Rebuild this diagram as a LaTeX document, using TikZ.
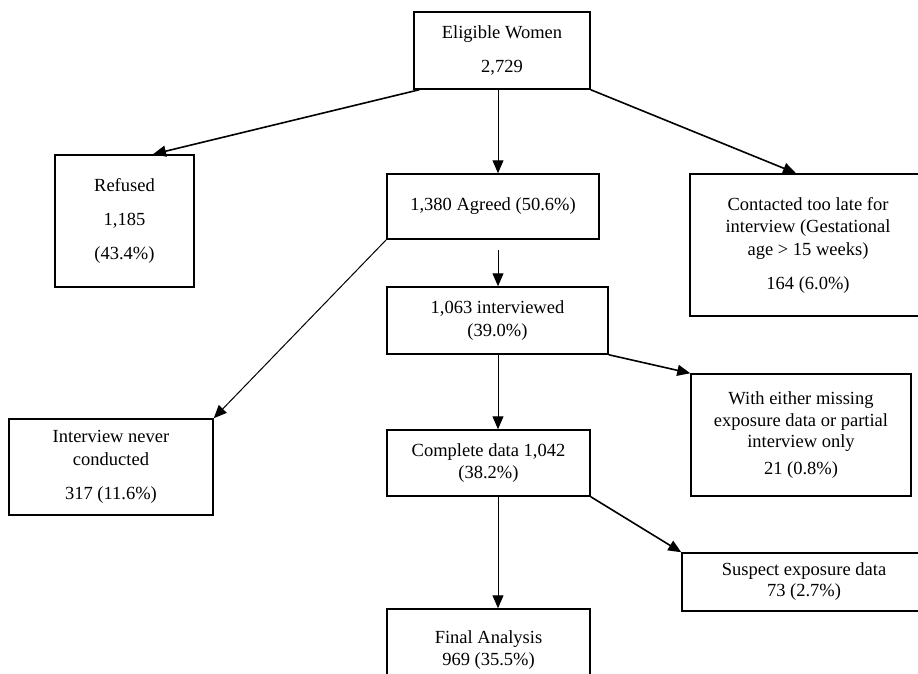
\documentclass[tikz,border=0pt]{standalone}
\usepackage{fontspec}
\setmainfont{Liberation Serif}
\usetikzlibrary{arrows.meta}
\def\boxfont{\fontsize{18.5}{22.5}\selectfont}

\begin{document}
\begin{tikzpicture}[x=1pt, y=-1pt,
		box/.style={draw, line width=1.5pt, align=center, inner sep=0pt, font=\boxfont},
		arr/.style={line width=1pt, -{Triangle[length=13pt,width=11pt]}},
		arrb/.style={line width=1.6pt, -{Triangle[length=13pt,width=11pt]}}]
		%%%%% START %%%%%
		
		\path[use as bounding box, fill=white] (0, 0) rectangle (918, 674);
		
		\node[box, minimum width=176pt, minimum height=77pt] (elig) at (502, 50.5) {Eligible Women\\[11.5pt]2,729};
		
		\node[box, minimum width=139pt, minimum height=132pt] (refused) at (124.5, 221) {Refused\\[11.5pt]1,185\\[11.5pt](43.4\%)};
		\node[box, minimum width=212pt, minimum height=65pt] (agreed) at (493, 206.5) {1,380 Agreed (50.6\%)};
		\node[box, minimum width=236pt, minimum height=142pt] (late) at (808, 245) {Contacted too late for\\interview (Gestational\\age > 15 weeks)\\[11.5pt]164 (6.0\%)};
		
		\node[box, minimum width=221pt, minimum height=67pt] (interviewed) at (497.5, 320.5) {1,063 interviewed\\(39.0\%)};
		\node[box, minimum width=204pt, minimum height=96pt] (never) at (111, 467) {Interview never\\conducted\\[11.5pt]317 (11.6\%)};
		\node[box, minimum width=220pt, minimum height=122pt] (missing) at (801, 435) {With either missing\\[-1pt]exposure data or partial\\[-1pt]interview only\\[4pt]21 (0.8\%)};
		
		\node[box, minimum width=203pt, minimum height=66pt] (complete) at (488.5, 463) {Complete data 1,042\\(38.2\%)};
		\node[box, minimum width=244pt, minimum height=58pt] (suspect) at (804, 582) {Suspect exposure data\\[-1.5pt]73 (2.7\%)};
		\node[box, minimum width=203pt, minimum height=82pt] (final) at (488.5, 650) {Final Analysis\\969 (35.5\%)};
		
		\draw[arrb] ([xshift=6pt]elig.south west) -- ([xshift=28.5pt]refused.north);
		\draw[arr] ([xshift=-4pt]elig.south) -- ([xshift=5pt]agreed.north);
		\draw[arrb] (elig.south east) -- ([xshift=-12pt]late.north);
		
		\draw[arr] ([xshift=5pt, yshift=-10pt]agreed.south) -- ([xshift=0.5pt]interviewed.north);
		\draw[arr] (agreed.south west) -- (never.north east);
		
		\draw[arrb] (interviewed.south east) -- (missing.north west);
		\draw[arr] ([xshift=0.5pt]interviewed.south) -- ([xshift=9.5pt]complete.north);
		
		\draw[arrb] (complete.south east) -- (suspect.north west);
		\draw[arr] ([xshift=9.5pt]complete.south) -- ([xshift=9.5pt]final.north);
		
		%%%%% END %%%%%
\end{tikzpicture}
\end{document}
